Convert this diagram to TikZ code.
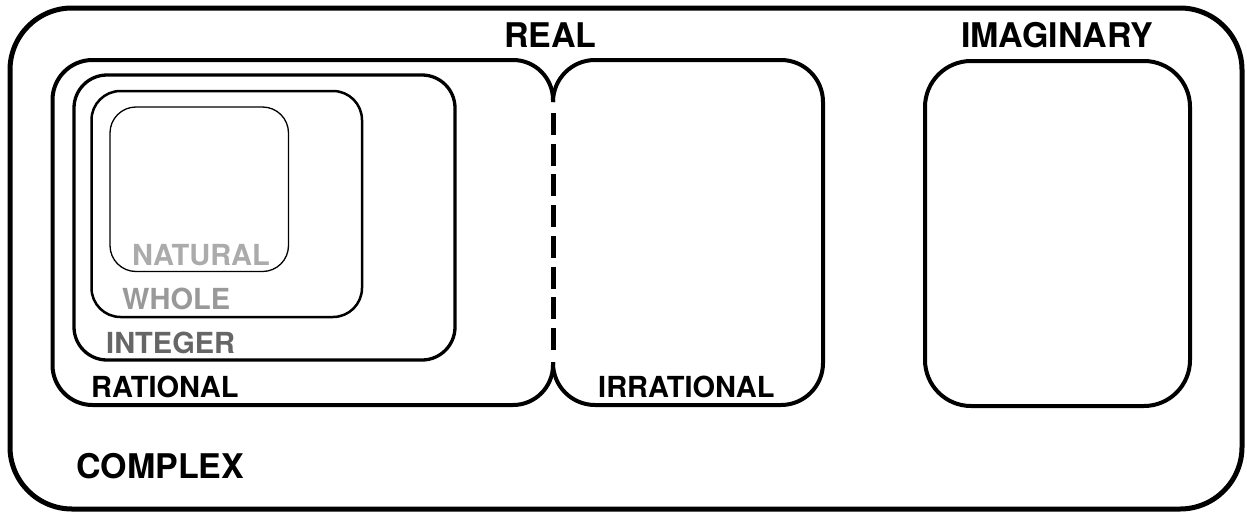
\documentclass[tikz,border=0pt]{standalone}
\usepackage{fontspec}
\setmainfont{TeX Gyre Heros}
\begin{document}
\begin{tikzpicture}[x=1pt,y=-1pt,
  box/.style={draw=black,line join=round},
  biglabel/.style={anchor=base west,inner sep=0pt,font=\fontsize{34}{36}\selectfont\bfseries},
  smalllabel/.style={anchor=base west,inner sep=0pt,font=\fontsize{29}{31}\selectfont\bfseries}]
\useasboundingbox (0,0) rectangle (1247,514);
% complex
\draw[box,line width=5pt,rounded corners=62] (10,8) rectangle (1242,509);
% rational
\draw[box,line width=4pt,rounded corners=40] (553,102) -- (553,60) -- (52.5,60) -- (52.5,405) -- (553,405) -- (553,362);
% irrational
\draw[box,line width=4pt,rounded corners=42] (553,102) -- (553,60) -- (823,60) -- (823,405) -- (553,405) -- (553,362);
% shared dashed edge
\draw[line width=5pt,dash pattern=on 22pt off 8.7pt] (553,113) -- (553,352);
% integer, whole, natural
\draw[box,line width=3.3pt,rounded corners=33] (74,75) rectangle (455,360);
\draw[box,line width=2.5pt,rounded corners=29] (91.5,91) rectangle (362,317);
\draw[box,line width=1.3pt,rounded corners=26] (110,107) rectangle (288.5,271.5);
% imaginary
\draw[box,line width=4pt,rounded corners=46] (925,61) rectangle (1190,406);
% labels
\node[biglabel] (real) at (504,47) {REAL};
\node[biglabel] (imag) at (961,47) {IMAGINARY};
\node[biglabel] (complex) at (76,478) {COMPLEX};
\node[smalllabel] (rational) at (91,397) {RATIONAL};
\node[smalllabel] (irrational) at (598,397) {IRRATIONAL};
\node[smalllabel,text=black!60] (integer) at (106,353) {INTEGER};
\node[smalllabel,text=black!40] (whole) at (122,309) {WHOLE};
\node[smalllabel,text=black!33] (natural) at (132,265) {NATURAL};
\end{tikzpicture}
\end{document}
